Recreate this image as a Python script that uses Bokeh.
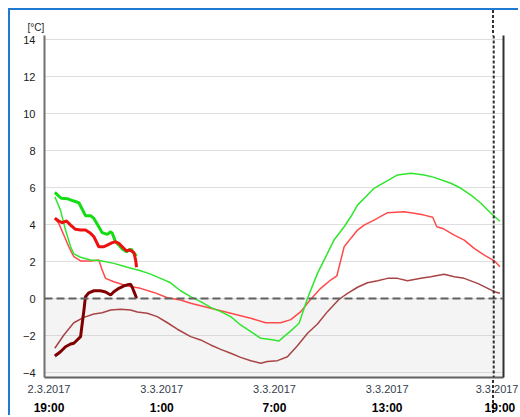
from bokeh.plotting import figure
from bokeh.models import (Range1d, LinearAxis, FixedTicker, BoxAnnotation, Span)
from bokeh.embed import file_html
from bokeh.resources import INLINE

# hours since 2.3.2017 19:00
obs_temp_h = [0.31, 0.65, 0.97, 1.32, 1.59, 1.68, 1.94, 2.21, 2.39, 2.65, 2.83, 3.10, 3.28, 3.37,
              3.54, 3.72, 3.90, 4.13, 4.25, 4.38, 4.49, 4.66]
obs_temp2 = [5.74, 5.42, 5.40, 5.27, 5.18, 5.00, 4.48, 4.48, 4.33, 3.88, 3.56, 3.47, 3.61, 3.52,
             3.07, 2.89, 2.68, 2.53, 2.62, 2.66, 2.48, 2.30]
obs_t_h = [0.31, 0.52, 0.70, 0.93, 1.15, 1.41, 1.68, 1.94, 2.17, 2.39, 2.65, 2.92, 3.10, 3.37,
           3.54, 3.72, 3.90, 4.13, 4.25, 4.38, 4.52, 4.61, 4.66]
obs_temp = [4.34, 4.19, 4.10, 4.19, 3.97, 3.74, 3.70, 3.70, 3.56, 3.34, 2.80, 2.80, 2.89, 3.02,
            3.07, 2.98, 2.80, 2.57, 2.62, 2.58, 2.48, 2.08, 1.69]
obs_d_h = [0.31, 0.61, 0.88, 1.15, 1.32, 1.50, 1.68, 1.77, 1.86, 1.94, 2.12, 2.39, 2.74, 3.01,
           3.28, 3.45, 3.72, 3.99, 4.20, 4.34, 4.43, 4.56, 4.66]
obs_dew = [-3.11, -2.88, -2.61, -2.46, -2.42, -2.24, -2.06, -1.34, -0.62, 0.10, 0.31, 0.42, 0.42,
           0.35, 0.19, 0.37, 0.55, 0.68, 0.75, 0.78, 0.61, 0.28, 0.01]

fc_g_h = [0.31, 0.61, 0.88, 1.15, 1.32, 1.68, 2.21, 2.74, 3.45, 4.17, 4.87, 5.41, 5.94, 6.47, 7.00,
          7.54, 8.07, 8.60, 9.14, 9.67, 10.20, 10.70, 11.27, 11.80, 12.24, 12.50, 12.87, 13.31,
          13.76, 14.29, 14.82, 15.17, 15.71, 16.06, 16.42, 16.86, 17.30, 18.02, 18.55, 19.26,
          19.97, 20.50, 21.39, 21.92, 22.46, 22.99, 23.52, 24.00]
fc_green = [5.50, 4.78, 3.70, 2.80, 2.41, 2.23, 2.08, 2.04, 1.90, 1.69, 1.50, 1.32, 1.09, 0.85, 0.42,
            0.10, -0.17, -0.48, -0.71, -0.98, -1.43, -1.76, -2.15, -2.21, -2.30, -2.06, -1.75, -1.34,
            0.01, 1.36, 2.44, 3.16, 3.88, 4.42, 5.05, 5.50, 5.96, 6.37, 6.68, 6.77,
            6.68, 6.55, 6.23, 5.96, 5.59, 5.15, 4.61, 4.18]
fc_r_h = [0.31, 0.52, 0.79, 1.05, 1.32, 1.68, 2.21, 2.65, 2.83, 3.01, 3.45, 4.17, 4.87, 5.58, 6.30,
          7.00, 7.54, 8.60, 9.67, 10.74, 11.53, 12.33, 12.87, 13.40, 13.93, 14.46, 14.99, 15.32,
          15.53, 15.71, 16.06, 16.42, 16.77, 17.30, 18.02, 18.90, 19.43, 19.97, 20.42, 20.64,
          20.95, 21.57, 22.10, 22.63, 23.17, 23.70, 24.00]
fc_red = [4.34, 4.06, 3.43, 2.80, 2.26, 2.03, 2.03, 2.08, 1.54, 1.09, 0.91, 0.68, 0.55, 0.33, 0.04,
          -0.08, -0.26, -0.53, -0.80, -1.07, -1.31, -1.31, -1.14, -0.71, -0.04, 0.55, 1.00, 1.22,
          2.08, 2.80, 3.25, 3.70, 3.97, 4.24, 4.64, 4.69, 4.61, 4.51, 4.39, 3.88,
          3.79, 3.43, 3.16, 2.71, 2.35, 2.04, 1.72]
fc_d_h = [0.31, 0.79, 1.32, 1.85, 2.39, 2.83, 3.28, 3.81, 4.34, 4.70, 5.23, 5.76, 6.30, 6.83, 7.54,
          8.07, 8.60, 9.14, 9.67, 10.20, 10.74, 11.27, 11.62, 12.16, 12.69, 13.22, 13.76, 14.29,
          14.82, 15.44, 15.89, 16.42, 16.95, 17.49, 18.02, 18.55, 19.08, 19.79, 20.32, 21.03,
          21.57, 22.10, 22.81, 23.35, 23.70, 24.00]
fc_dew = [-2.69, -1.97, -1.31, -1.02, -0.84, -0.77, -0.62, -0.58, -0.62, -0.73, -0.80, -0.98, -1.31,
          -1.66, -2.06, -2.24, -2.51, -2.75, -2.96, -3.18, -3.36, -3.50, -3.41, -3.36, -3.15, -2.55,
          -1.88, -1.38, -0.71, -0.04, 0.28, 0.61, 0.85, 0.96, 1.09, 1.09, 0.96, 1.09, 1.18, 1.31,
          1.18, 1.09, 0.82, 0.55, 0.37, 0.28]

tick_hours = [0, 6, 12, 18, 24]
tick_dates = ["2.3.2017", "3.3.2017", "3.3.2017", "3.3.2017", "3.3.2017"]
tick_times = ["19:00", "1:00", "7:00", "13:00", "19:00"]
y_ticks = [-4, -2, 0, 2, 4, 6, 8, 10, 12, 14]
now_hour = 23.67
unit_label = "[°C]"

FONT = "Liberation Sans"
BLUE = "#1f7ad0"

p = figure(width=510, height=407, output_backend="svg", toolbar_location=None,
           x_range=Range1d(-0.24, 24.19), y_range=Range1d(-4.27, 14.22),
           min_border_left=34, min_border_right=17, min_border_top=25, min_border_bottom=40,
           x_axis_type=None, title=unit_label)
# window frame (blue left/top edge) and the "now" marker outside the plot frame via CSS
p.styles = {
    "margin-left": "8px",
    "margin-top": "8px",
    "border-left": "2px solid " + BLUE,
    "border-top": "2px solid " + BLUE,
    "background-color": "white",
    "background-image": "repeating-linear-gradient(to bottom, #303030 0px, #303030 3px, "
                        "transparent 3px, transparent 5px)",
    "background-size": "2px 100%",
    "background-repeat": "no-repeat",
    "background-position": "482px 0px",
}
p.border_fill_alpha = 0
p.outline_line_color = None
p.background_fill_color = "white"

p.title.align = "left"
p.title.offset = -17
p.title.text_font = FONT
p.title.text_font_size = "10px"
p.title.text_font_style = "normal"
p.title.text_color = "#222222"
p.title.standoff = 5

# axes
date_axis = LinearAxis(ticker=FixedTicker(ticks=tick_hours),
                       major_label_overrides={h: d for h, d in zip(tick_hours, tick_dates)})
time_axis = LinearAxis(ticker=FixedTicker(ticks=tick_hours),
                       major_label_overrides={h: t for h, t in zip(tick_hours, tick_times)})
for ax in (date_axis, time_axis):
    ax.major_tick_in = 0
    ax.major_tick_out = 0
    ax.minor_tick_in = 0
    ax.minor_tick_out = 0
    ax.major_label_text_font = FONT
date_axis.axis_line_color = "#606060"
date_axis.axis_line_width = 2
date_axis.major_label_text_font_size = "11px"
date_axis.major_label_text_color = "#34404c"
date_axis.major_label_standoff = 7
time_axis.axis_line_color = None
time_axis.major_label_text_font_size = "12px"
time_axis.major_label_text_font_style = "bold"
time_axis.major_label_text_color = "#000000"
time_axis.major_label_standoff = 5
p.add_layout(date_axis, "below")
p.add_layout(time_axis, "below")

p.yaxis.ticker = FixedTicker(ticks=y_ticks)
p.yaxis.major_tick_in = 0
p.yaxis.major_tick_out = 0
p.yaxis.minor_tick_in = 0
p.yaxis.minor_tick_out = 0
p.yaxis.axis_line_color = "#707070"
p.yaxis.axis_line_width = 2
p.yaxis.major_label_text_font = FONT
p.yaxis.major_label_text_font_size = "11px"
p.yaxis.major_label_text_color = "#1a1a1a"
p.yaxis.major_label_standoff = 9

right_axis = LinearAxis(ticker=FixedTicker(ticks=[]), major_label_text_font_size="0px",
                        major_tick_in=0, major_tick_out=0, minor_tick_in=0, minor_tick_out=0,
                        axis_line_color="#303030", axis_line_width=2, major_label_standoff=0)
p.add_layout(right_axis, "right")

# grid
p.xgrid.ticker = FixedTicker(ticks=tick_hours)
p.ygrid.ticker = FixedTicker(ticks=y_ticks)
for g in (p.xgrid, p.ygrid):
    g.grid_line_color = "#bdbdbd"
    g.grid_line_dash = "1 1"
    g.grid_line_width = 1

p.add_layout(BoxAnnotation(top=0, fill_color="#f4f4f4", fill_alpha=1.0, line_color=None,
                           level="image"))

# forecast lines
p.line(fc_d_h, fc_dew, line_color="#a84444", line_width=1.5)
p.line(fc_r_h, fc_red, line_color="#ff4a4a", line_width=1.5)
p.line(fc_g_h, fc_green, line_color="#2ee62e", line_width=1.5)

# zero line
p.add_layout(Span(location=0, dimension="width", line_color="#606060", line_width=2,
                  line_dash="8 4"))

# observed lines
p.line(obs_temp_h, obs_temp2, line_color="#14dc14", line_width=3)
p.line(obs_t_h, obs_temp, line_color="#ee1010", line_width=3)
p.line(obs_d_h, obs_dew, line_color="#800000", line_width=3)

# now marker inside the frame
p.add_layout(Span(location=now_hour, dimension="height", line_color="#303030", line_width=2,
                  line_dash="3 2"))

open("out.html", "w").write(file_html(p, INLINE))
